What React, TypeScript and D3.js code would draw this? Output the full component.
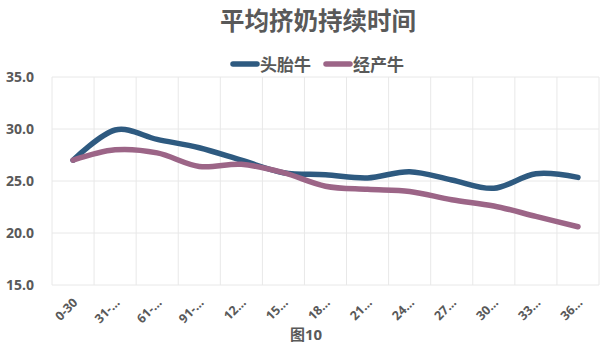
import React from "react";
import * as d3 from "d3";

const categories = ["0-30", "31-…", "61-…", "91-…", "12…", "15…", "18…", "21…", "24…", "27…", "30…", "33…", "36…"];
const firstCalf = [27.0, 29.9, 29.0, 28.2, 27.0, 25.8, 25.6, 25.3, 25.9, 25.1, 24.3, 25.7, 25.35];
const multiCalf = [27.0, 28.0, 27.7, 26.4, 26.6, 25.8, 24.5, 24.2, 24.0, 23.2, 22.6, 21.6, 20.6];
const yTicks = [15, 20, 25, 30, 35];
const seriesNames = ["头胎牛", "经产牛"];

const W = 605, H = 358;
const m = { left: 52, right: 6, top: 77, bottom: 73 };
const FONT = "'Open Sans', 'Noto Sans CJK SC', sans-serif";
const TXT = "#595959";
const colors = ["#2E5A80", "#9C6587"];

export default function App() {
  const x = d3.scaleBand().domain(categories).range([m.left, W - m.right]);
  const y = d3.scaleLinear().domain([15, 35]).range([H - m.bottom, m.top]);
  const line = d3
    .line<number>()
    .x((_, i) => (x(categories[i]) as number) + x.bandwidth() / 2)
    .y((d) => y(d))
    .curve(d3.curveCardinal.tension(0));
  const series = [firstCalf, multiCalf];
  const boundaries = d3.range(categories.length + 1).map((i) => m.left + i * x.step());

  return (
    <svg width={W} height={H} style={{ position: "absolute", left: 0, top: 0, background: "#fff" }}>
      <text x={318} y={30} textAnchor="middle" fontFamily={FONT} fontWeight="bold" fontSize={24.5} fill={TXT}>
        平均挤奶持续时间
      </text>
      {seriesNames.map((n, i) => {
        const lx = 233 + i * 93;
        return (
          <g key={n}>
            <line x1={lx} x2={lx + 24} y1={64} y2={64} stroke={colors[i]} strokeWidth={5.5} strokeLinecap="round" />
            <text x={lx + 27} y={70.5} fontFamily={FONT} fontWeight="bold" fontSize={17} fill={TXT}>
              {n}
            </text>
          </g>
        );
      })}
      {yTicks.map((t) => (
        <g key={t}>
          <line x1={m.left} x2={W - m.right} y1={y(t)} y2={y(t)} stroke="#e8e8e8" strokeWidth={1} />
          <text x={34} y={y(t) + 5} textAnchor="end" fontFamily={FONT} fontWeight="bold" fontSize={14} fill={TXT}>
            {t.toFixed(1)}
          </text>
        </g>
      ))}
      {boundaries.map((bx, i) => (
        <line key={i} x1={bx} x2={bx} y1={y(35)} y2={y(15)} stroke="#e8e8e8" strokeWidth={1} />
      ))}
      {series.map((s, i) => (
        <path key={i} d={line(s) as string} fill="none" stroke={colors[i]} strokeWidth={5.5} strokeLinecap="round" strokeLinejoin="round" />
      ))}
      {categories.map((c) => {
        const cx = (x(c) as number) + x.bandwidth() / 2 + 3;
        const cy = H - m.bottom + 16;
        return (
          <text key={c} x={cx} y={cy} transform={`rotate(-45 ${cx} ${cy})`} textAnchor="end" dominantBaseline="middle"
            fontFamily={FONT} fontWeight="bold" fontSize={12.5} fill={TXT}>
            {c}
          </text>
        );
      })}
      <text x={306} y={340} textAnchor="middle" fontFamily={FONT} fontWeight="bold" fontSize={15} fill={TXT}>
        图10
      </text>
    </svg>
  );
}
